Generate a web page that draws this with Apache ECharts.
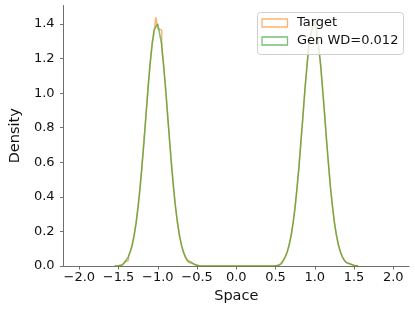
<!DOCTYPE html>
<html>
<head>
<meta charset="utf-8">
<script src="https://cdn.jsdelivr.net/npm/echarts@6/dist/echarts.min.js"></script>
<style>
html,body{margin:0;padding:0;background:#fff;}
#c{width:415px;height:311px;}
</style>
</head>
<body>
<div id="c"></div>
<script>
// Histogram bins: left edge of first bin and bin width (x categories)
const binStart = -1.55;
const binWidth = 0.025;
const xTicks = [-2.0, -1.5, -1.0, -0.5, 0.0, 0.5, 1.0, 1.5, 2.0];
const yTicks = [0.0, 0.2, 0.4, 0.6, 0.8, 1.0, 1.2, 1.4];
const seriesNames = ['Target', 'Gen WD=0.012'];

// Target density per bin (left peak, gap, right peak)
const targetLeft = [
  0.000, 0.002, 0.004, 0.008, 0.011, 0.023, 0.032, 0.057, 0.080, 0.130, 0.174,
  0.262, 0.338, 0.467, 0.578, 0.741, 0.862, 1.040, 1.146, 1.290, 1.338, 1.438,
  1.372, 1.365, 1.258, 1.170, 1.012, 0.889, 0.716, 0.597, 0.447, 0.352, 0.246,
  0.186, 0.119, 0.087, 0.051, 0.036, 0.019, 0.013, 0.006, 0.004, 0.001, 0.000
];
const targetGap = [
  0,0,0,0,0,0,0,0,0,0,0,0,0,0,0,0,0,0,
  0,0,0,0,0,0,0,0,0,0,0,0,0,0,0,0,0,0
];
const targetRight = [
  0.001, 0.002, 0.004, 0.006, 0.013, 0.020, 0.035, 0.052, 0.085, 0.121, 0.184,
  0.249, 0.349, 0.451, 0.590, 0.722, 0.880, 1.018, 1.162, 1.275, 1.345, 1.402,
  1.390, 1.358, 1.266, 1.152, 1.030, 0.870, 0.733, 0.580, 0.460, 0.341, 0.255,
  0.177, 0.126, 0.081, 0.055, 0.033, 0.021, 0.012, 0.007, 0.004, 0.002, 0.000
];

// Generated density per bin
const genLeft = [
  0.001, 0.002, 0.005, 0.006, 0.013, 0.019, 0.036, 0.051, 0.086, 0.119, 0.185,
  0.248, 0.351, 0.449, 0.591, 0.716, 0.884, 1.012, 1.165, 1.262, 1.361, 1.384,
  1.401, 1.340, 1.280, 1.150, 1.030, 0.868, 0.735, 0.578, 0.462, 0.340, 0.258,
  0.176, 0.128, 0.080, 0.056, 0.032, 0.022, 0.011, 0.007, 0.003, 0.002, 0.000
];
const genGap = [
  0,0,0,0,0,0,0,0,0,0,0,0,0,0,0,0,0,0,
  0,0,0,0,0,0,0,0,0,0,0,0,0,0,0,0,0,0
];
const genRight = [
  0.000, 0.002, 0.003, 0.007, 0.012, 0.022, 0.033, 0.055, 0.082, 0.127, 0.177,
  0.256, 0.341, 0.462, 0.579, 0.735, 0.868, 1.030, 1.150, 1.282, 1.338, 1.378,
  1.425, 1.350, 1.262, 1.165, 1.015, 0.884, 0.720, 0.591, 0.450, 0.350, 0.250,
  0.182, 0.122, 0.085, 0.053, 0.035, 0.020, 0.012, 0.007, 0.003, 0.002, 0.001
];

function stepData(vals) {
  const d = [];
  d.push([binStart, 0]);
  for (let i = 0; i < vals.length; i++) {
    d.push([+(binStart + i * binWidth).toFixed(4), vals[i]]);
  }
  const xn = +(binStart + vals.length * binWidth).toFixed(4);
  d.push([xn, vals[vals.length - 1]]);
  d.push([xn, 0]);
  return d;
}

const targetVals = targetLeft.concat(targetGap, targetRight);
const genVals = genLeft.concat(genGap, genRight);

const FONT = 'DejaVu Sans';
const fmt = v => (v < 0 ? '\u2212' : '') + Math.abs(v).toFixed(1);
const AX = '#6e6e6e';
const C_T = 'rgba(255,127,14,0.6)';
const C_G = 'rgba(44,160,44,0.65)';

const chart = echarts.init(document.getElementById('c'), null, {renderer: 'canvas'});
chart.setOption({
  animation: false,
  backgroundColor: '#fff',
  grid: {left: 54, right: 6, top: 5.5, bottom: 45, containLabel: false},
  xAxis: {
    type: 'value', min: -2.2, max: 2.2,
    name: 'Space', nameLocation: 'middle', nameGap: 22,
    nameTextStyle: {fontFamily: FONT, fontSize: 14.5, color: '#111'},
    axisLine: {show: true, onZero: false, lineStyle: {color: AX, width: 1}},
    axisTick: {show: true, length: 3.5, customValues: xTicks, lineStyle: {color: AX, width: 1}},
    axisLabel: {customValues: xTicks, formatter: fmt, fontFamily: FONT, fontSize: 13, color: '#111', margin: 5},
    splitLine: {show: false}
  },
  yAxis: {
    type: 'value', min: 0, max: 1.507,
    name: 'Density', nameLocation: 'middle', nameGap: 33, nameRotate: 90,
    nameTextStyle: {fontFamily: FONT, fontSize: 14.5, color: '#111'},
    axisLine: {show: true, onZero: false, lineStyle: {color: AX, width: 1}},
    axisTick: {show: true, length: 3.5, customValues: yTicks, lineStyle: {color: AX, width: 1}},
    axisLabel: {customValues: yTicks, formatter: v => v.toFixed(1), fontFamily: FONT, fontSize: 13, color: '#111', margin: 9},
    splitLine: {show: false}
  },
  legend: {show: false},
  graphic: [
    {type: 'rect', z: 100, shape: {x: 257.5, y: 12.5, width: 146, height: 42, r: 3},
     style: {fill: 'rgba(255,255,255,0.8)', stroke: '#d0d0d0', lineWidth: 1}},
    {type: 'rect', z: 101, shape: {x: 262, y: 19, width: 25.5, height: 8},
     style: {fill: 'none', stroke: C_T, lineWidth: 1.3}},
    {type: 'rect', z: 101, shape: {x: 262, y: 37, width: 25.5, height: 8},
     style: {fill: 'none', stroke: C_G, lineWidth: 1.3}},
    {type: 'text', z: 101, x: 297, y: 23, style: {text: seriesNames[0], font: '13px "DejaVu Sans"', fill: '#111', textVerticalAlign: 'middle', verticalAlign: 'middle'}},
    {type: 'text', z: 101, x: 297, y: 41, style: {text: seriesNames[1], font: '13px "DejaVu Sans"', fill: '#111', textVerticalAlign: 'middle', verticalAlign: 'middle'}}
  ],
  series: [
    {
      name: seriesNames[0], type: 'line', step: 'end', showSymbol: false, symbol: 'none',
      data: stepData(targetVals),
      lineStyle: {color: C_T, width: 1.5},
      itemStyle: {color: C_T}
    },
    {
      name: seriesNames[1], type: 'line', step: 'end', showSymbol: false, symbol: 'none',
      data: stepData(genVals),
      lineStyle: {color: C_G, width: 1.5},
      itemStyle: {color: C_G}
    }
  ]
});
</script>
</body>
</html>
